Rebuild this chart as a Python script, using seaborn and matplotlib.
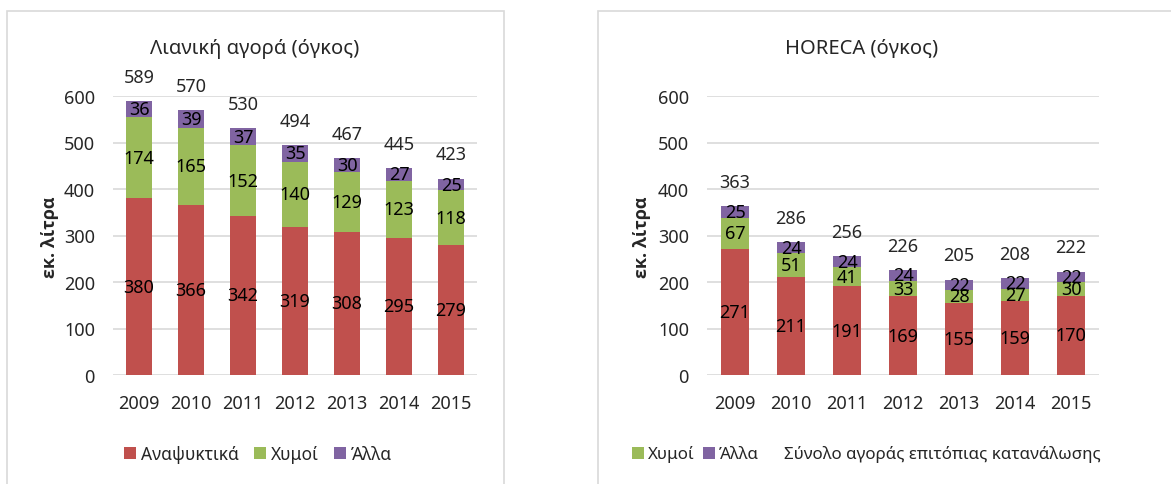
import numpy as np
import pandas as pd
import matplotlib
matplotlib.use("Agg")
import matplotlib.pyplot as plt
from matplotlib.patches import Rectangle, Patch
import seaborn as sns

# data
years = ['2009', '2010', '2011', '2012', '2013', '2014', '2015']

retail_soft = [380, 366, 342, 319, 308, 295, 279]
retail_juice = [174, 165, 152, 140, 129, 123, 118]
retail_other = [36, 39, 37, 35, 30, 27, 25]
retail_total = [589, 570, 530, 494, 467, 445, 423]

horeca_soft = [271, 211, 191, 169, 155, 159, 170]
horeca_juice = [67, 51, 41, 33, 28, 27, 30]
horeca_other = [25, 24, 24, 24, 22, 22, 22]
horeca_total = [363, 286, 256, 226, 205, 208, 222]

series_names = ['Αναψυκτικά', 'Χυμοί', 'Άλλα']
total_name = 'Σύνολο αγοράς επιτόπιας κατανάλωσης'
colors = ['#C0504D', '#9BBB59', '#8064A2']

sns.set_style("white")
plt.rcParams['font.family'] = ['Noto Sans', 'DejaVu Sans']
plt.rcParams['font.size'] = 12

W, H = 1171, 485
fig = plt.figure(figsize=(W / 100, H / 100), dpi=100)

# panel frames
for x0, x1 in [(7, 504), (598, 1185)]:
    fig.patches.append(Rectangle((x0 / W, 1 - 495 / H), (x1 - x0) / W, (495 - 12) / H,
                                 transform=fig.transFigure, fill=False,
                                 edgecolor='#D9D9D9', linewidth=1.2, clip_on=False))


def draw_panel(ax, soft, juice, other, total):
    df = pd.DataFrame({'year': years, 'soft': soft, 'juice': juice, 'other': other})
    df['c1'] = df['soft']
    df['c2'] = df['soft'] + df['juice']
    df['c3'] = df['c2'] + df['other']
    # draw the tallest stack first, then overlay the lower parts
    for col, c in zip(['c3', 'c2', 'c1'], colors[::-1]):
        sns.barplot(data=df, x='year', y=col, color=c, saturation=1, width=0.5,
                    linewidth=0, ax=ax, zorder=3)
    # segment labels
    bases = [np.zeros(len(years)), df['c1'].values, df['c2'].values]
    for vals, base in zip([soft, juice, other], bases):
        for i, v in enumerate(vals):
            ax.text(i, base[i] + v / 2, str(v), ha='center', va='center',
                    fontsize=13, color='black', zorder=5)
    # totals above bars
    for i, t in enumerate(total):
        ax.annotate(str(t), (i, t), xytext=(0, 17.5), textcoords='offset points',
                    ha='center', va='center', fontsize=13, annotation_clip=False)
    ax.set_ylim(0, 600)
    ax.set_xlim(-0.5, 6.5)
    ax.set_yticks(range(0, 601, 100))
    ax.yaxis.grid(True, color='#D9D9D9', linewidth=1.2, zorder=0)
    ax.set_axisbelow(True)
    sns.despine(ax=ax, left=True, bottom=True)
    ax.tick_params(axis='y', length=0, pad=13, labelsize=13)
    ax.tick_params(axis='x', length=0, pad=14, labelsize=13)
    ax.set_xlabel('')
    ax.set_ylabel('')


ax1 = fig.add_axes([113 / W, 1 - 376 / H, 364 / W, 279 / H])
draw_panel(ax1, retail_soft, retail_juice, retail_other, retail_total)

ax2 = fig.add_axes([707 / W, 1 - 376 / H, 392 / W, 279 / H])
draw_panel(ax2, horeca_soft, horeca_juice, horeca_other, horeca_total)

# titles and y labels
fig.text(255 / W, 1 - 49 / H, 'Λιανική αγορά (όγκος)', ha='center', va='center', fontsize=14.5)
fig.text(862 / W, 1 - 49 / H, 'HORECA (όγκος)', ha='center', va='center', fontsize=14.5)
for xl in [50, 642]:
    fig.text(xl / W, 1 - 237 / H, 'εκ. λίτρα', rotation=90, ha='center', va='center',
             fontsize=13, fontweight='bold', family=['Open Sans', 'DejaVu Sans'])

# legends
h_all = [Patch(facecolor=c, edgecolor='none') for c in colors]
fig.legend(h_all, series_names, loc='center', bbox_to_anchor=(258 / W, 1 - 455 / H),
           ncol=3, frameon=False, fontsize=12.5, handlelength=0.7, handleheight=0.7,
           handletextpad=0.25, columnspacing=0.9)
h_right = h_all[1:] + [Patch(facecolor='none', edgecolor='none')]
fig.legend(h_right, series_names[1:] + [total_name], loc='center',
           bbox_to_anchor=(866 / W, 1 - 455 / H), ncol=3, frameon=False, fontsize=12.2,
           handlelength=0.7, handleheight=0.7, handletextpad=0.25, columnspacing=0.5)

fig.savefig('out.png', dpi=100)
